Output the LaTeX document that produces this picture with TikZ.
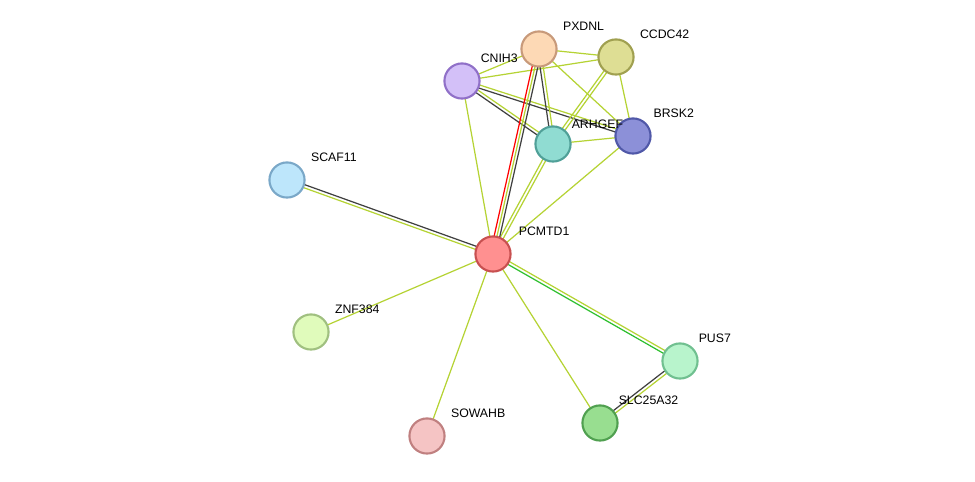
\documentclass[tikz,border=0pt]{standalone}
\usepackage{fontspec}
\setmainfont{Liberation Sans}
\usetikzlibrary{calc}
\definecolor{yg}{HTML}{B5D334}
\definecolor{dk}{HTML}{404040}
\definecolor{gr}{HTML}{30C030}
\definecolor{f1}{HTML}{FF9090}\definecolor{b1}{HTML}{C85050}
\definecolor{f2}{HTML}{FDD9B5}\definecolor{b2}{HTML}{C89A7A}
\definecolor{f3}{HTML}{DEDE94}\definecolor{b3}{HTML}{A0A050}
\definecolor{f4}{HTML}{D3C0F8}\definecolor{b4}{HTML}{9070C8}
\definecolor{f5}{HTML}{90DCD2}\definecolor{b5}{HTML}{50A098}
\definecolor{f6}{HTML}{8C90D8}\definecolor{b6}{HTML}{5058A8}
\definecolor{f7}{HTML}{BDE6FB}\definecolor{b7}{HTML}{7AA8C8}
\definecolor{f8}{HTML}{E0FBBB}\definecolor{b8}{HTML}{A0C080}
\definecolor{f9}{HTML}{F5C4C4}\definecolor{b9}{HTML}{C08080}
\definecolor{f10}{HTML}{98DE90}\definecolor{b10}{HTML}{50A050}
\definecolor{f11}{HTML}{B8F4CC}\definecolor{b11}{HTML}{70C090}
\tikzset{
  prot/.style={circle, draw=b#1, fill=f#1, line width=1.2pt, minimum size=20pt, inner sep=0pt},
  lbl/.style={font=\fontsize{7}{8}\selectfont, anchor=south west, inner sep=1pt},
  link/.style={line width=0.7pt}
}
% two parallel connectors
\def\two#1#2#3#4{\draw[link,#3] ($(#1)!0.9pt!90:(#2)$) -- ($(#2)!0.9pt!-90:(#1)$);
  \draw[link,#4] ($(#1)!0.9pt!-90:(#2)$) -- ($(#2)!0.9pt!90:(#1)$);}
\begin{document}
\begin{tikzpicture}[x=0.02cm,y=-0.02cm]
  \useasboundingbox (0,0) rectangle (975,482);
  \coordinate (pcmtd1) at (493,254);
  \coordinate (pxdnl) at (539,49);
  \coordinate (ccdc42) at (616,57);
  \coordinate (cnih3) at (462,81);
  \coordinate (arhgef) at (553,144);
  \coordinate (brsk2) at (633,136);
  \coordinate (scaf11) at (287,180);
  \coordinate (znf384) at (311,332);
  \coordinate (sowahb) at (427,436);
  \coordinate (slc25a32) at (600,423);
  \coordinate (pus7) at (680,361);
  % edges
  \draw[link,yg] (cnih3) -- (pxdnl) (cnih3) -- (ccdc42) (pxdnl) -- (ccdc42) (pxdnl) -- (brsk2)
    (ccdc42) -- (brsk2) (arhgef) -- (brsk2) (pcmtd1) -- (cnih3) (pcmtd1) -- (brsk2)
    (pcmtd1) -- (znf384) (pcmtd1) -- (sowahb) (pcmtd1) -- (slc25a32);
  \two{cnih3}{arhgef}{yg}{dk}
  \two{cnih3}{brsk2}{yg}{dk}
  \two{pxdnl}{arhgef}{yg}{dk}
  \two{ccdc42}{arhgef}{yg}{yg}
  \two{pcmtd1}{arhgef}{yg}{yg}
  \two{pcmtd1}{scaf11}{yg}{dk}
  \two{pcmtd1}{pus7}{yg}{gr}
  \two{pus7}{slc25a32}{yg}{dk}
  \draw[link,red] ($(pcmtd1)!1.6pt!90:(pxdnl)$) -- ($(pxdnl)!1.6pt!-90:(pcmtd1)$);
  \draw[link,yg] (pcmtd1) -- (pxdnl);
  \draw[link,dk] ($(pcmtd1)!1.6pt!-90:(pxdnl)$) -- ($(pxdnl)!1.6pt!90:(pcmtd1)$);
  % proteins
  \node[prot=1] (n1) at (pcmtd1) {};
  \node[prot=2] (n2) at (pxdnl) {};
  \node[prot=3] (n3) at (ccdc42) {};
  \node[prot=4] (n4) at (cnih3) {};
  \node[prot=5] (n5) at (arhgef) {};
  \node[prot=6] (n6) at (brsk2) {};
  \node[prot=7] (n7) at (scaf11) {};
  \node[prot=8] (n8) at (znf384) {};
  \node[prot=9] (n9) at (sowahb) {};
  \node[prot=10] (n10) at (slc25a32) {};
  \node[prot=11] (n11) at (pus7) {};
  % labels
  \node[lbl] at ([xshift=6pt,yshift=2pt]n1.north east) {PCMTD1};
  \node[lbl] at ([xshift=5pt,yshift=2pt]n2.north east) {PXDNL};
  \node[lbl] at ([xshift=5pt,yshift=2pt]n3.north east) {CCDC42};
  \node[lbl] at ([xshift=2pt,yshift=2pt]n4.north east) {CNIH3};
  \node[lbl] at ([xshift=2pt,yshift=0pt]n5.north east) {ARHGEF};
  \node[lbl] at ([xshift=3pt,yshift=2pt]n6.north east) {BRSK2};
  \node[lbl] at ([xshift=5pt,yshift=2pt]n7.north east) {SCAF11};
  \node[lbl] at ([xshift=5pt,yshift=2pt]n8.north east) {ZNF384};
  \node[lbl] at ([xshift=5pt,yshift=2pt]n9.north east) {SOWAHB};
  \node[lbl] at ([xshift=2pt,yshift=2pt]n10.north east) {SLC25A32};
  \node[lbl] at ([xshift=2pt,yshift=2pt]n11.north east) {PUS7};
\end{tikzpicture}
\end{document}
